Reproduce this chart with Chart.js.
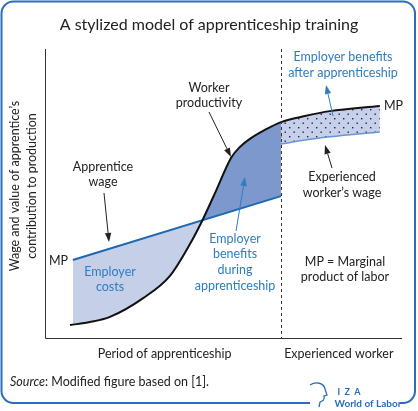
<!DOCTYPE html>
<html>
<head>
<meta charset="utf-8">
<script src="https://cdn.jsdelivr.net/npm/chart.js@4.4.1/dist/chart.umd.min.js"></script>
<style>
  html, body { margin: 0; padding: 0; background: #ffffff; }
  #wrap { width: 418px; height: 411px; position: relative; }
</style>
</head>
<body>
<div id="wrap"><canvas id="c"></canvas></div>
<script>
// ---- Data (stylized values) ----
const mpX   = [7.0, 12.6, 18.2, 27.5, 35.0, 40.6, 44.0, 47.9, 52.1, 54.6, 57.4, 61.6, 66.1, 72.8, 79.8, 93.8];
const mpY   = [4.5, 5.5, 7.3, 13.8, 21.5, 32.5, 40.5, 50.9, 62.3, 66.1, 68.9, 72.0, 74.7, 76.8, 78.5, 80.3];
const apprWageX = [7.8, 66.1];
const apprWageY = [27.0, 49.1];
const expWageX  = [66.1, 72.8, 79.8, 93.8];
const expWageY  = [67.1, 68.5, 69.6, 71.3];
const endOfApprenticeship = 66.1;
const periodLabels = ["Period of apprenticeship", "Experienced worker"];
const periodCenters = [33.5, 82.3];
const title = "A stylized model of apprenticeship training";
const yAxisTitle = ["Wage and value of apprentice\u2019s", "contribution to production"];

const toPts = (xs, ys) => xs.map((x, i) => ({ x: x, y: ys[i] }));

// dotted pattern for employer benefits after apprenticeship
function makePattern() {
  const p = document.createElement('canvas');
  p.width = 9; p.height = 9;
  const g = p.getContext('2d');
  g.fillStyle = '#c6d0ea';
  g.fillRect(0, 0, 9, 9);
  g.fillStyle = '#22263a';
  g.fillRect(1, 1, 1.4, 1.4);
  g.fillRect(5.5, 5.5, 1.4, 1.4);
  return document.getElementById('c').getContext('2d').createPattern(p, 'repeat');
}

const BLUE_TXT = '#2f7cc1';
const BLUE_LINE = '#1c68b3';
const FONT = 'Lato, "Noto Sans", sans-serif';

function arrow(ctx, x1, y1, x2, y2, color) {
  const ang = Math.atan2(y2 - y1, x2 - x1);
  const L = 9, W = 3.2;
  const bx = x2 - L * Math.cos(ang), by = y2 - L * Math.sin(ang);
  ctx.save();
  ctx.strokeStyle = color; ctx.fillStyle = color; ctx.lineWidth = 1;
  ctx.beginPath(); ctx.moveTo(x1, y1); ctx.lineTo(bx, by); ctx.stroke();
  ctx.beginPath();
  ctx.moveTo(x2, y2);
  ctx.lineTo(bx + W * Math.sin(ang), by - W * Math.cos(ang));
  ctx.lineTo(bx - W * Math.sin(ang), by + W * Math.cos(ang));
  ctx.closePath(); ctx.fill();
  ctx.restore();
}

function text(ctx, s, x, y, opts) {
  opts = opts || {};
  ctx.save();
  ctx.font = (opts.weight || '') + ' ' + (opts.size || 13) + 'px ' + FONT;
  ctx.fillStyle = opts.color || '#222';
  ctx.textAlign = opts.align || 'center';
  ctx.textBaseline = 'middle';
  ctx.fillText(s, x, y);
  ctx.restore();
}

const decor = {
  id: 'decor',
  afterDraw(chart) {
    const ctx = chart.ctx;
    const xs = chart.scales.x, ys = chart.scales.y;
    const a = chart.chartArea;

    // axes
    ctx.save();
    ctx.strokeStyle = '#333'; ctx.lineWidth = 1;
    ctx.beginPath();
    ctx.moveTo(a.left + 0.5, a.top); ctx.lineTo(a.left + 0.5, a.bottom + 0.5);
    ctx.lineTo(a.right, a.bottom + 0.5);
    ctx.stroke();
    // dashed divider
    const dx = Math.round(xs.getPixelForValue(endOfApprenticeship)) + 0.5;
    ctx.setLineDash([3, 3]);
    ctx.beginPath(); ctx.moveTo(dx, a.top); ctx.lineTo(dx, a.bottom); ctx.stroke();
    ctx.restore();

    // title
    text(ctx, title, 209, 25, { size: 16, color: '#222' });

    // y-axis title
    ctx.save();
    ctx.translate(15, 186); ctx.rotate(-Math.PI / 2);
    text(ctx, yAxisTitle[0], 0, 0, { size: 12.5 });
    text(ctx, yAxisTitle[1], 0, 17, { size: 12.5 });
    ctx.restore();

    // period labels
    periodLabels.forEach((s, i) => text(ctx, s, xs.getPixelForValue(periodCenters[i]), 354, { size: 12.5 }));

    // annotations
    text(ctx, 'Worker', 209, 88, { size: 12.5 });
    text(ctx, 'productivity', 209, 103, { size: 12.5 });
    arrow(ctx, 209, 112, 231, 157, '#222');

    text(ctx, 'Apprentice', 103, 167, { size: 12.5 });
    text(ctx, 'wage', 103, 182, { size: 12.5 });
    arrow(ctx, 104, 193, 109, 242, '#222');

    text(ctx, 'MP', 68, 261, { size: 12.5, align: 'right' });
    text(ctx, 'Employer', 110, 272, { size: 12.5, color: BLUE_TXT });
    text(ctx, 'costs', 110, 287, { size: 12.5, color: BLUE_TXT });

    text(ctx, 'Employer', 235, 239, { size: 12.5, color: BLUE_TXT });
    text(ctx, 'benefits', 235, 254, { size: 12.5, color: BLUE_TXT });
    text(ctx, 'during', 235, 270, { size: 12.5, color: BLUE_TXT });
    text(ctx, 'apprenticeship', 235, 286, { size: 12.5, color: BLUE_TXT });
    arrow(ctx, 236, 231, 245, 177, BLUE_TXT);

    text(ctx, 'Employer benefits', 343, 57, { size: 12.5, color: BLUE_TXT });
    text(ctx, 'after apprenticeship', 343, 73, { size: 12.5, color: BLUE_TXT });
    arrow(ctx, 333, 116, 326, 85, BLUE_TXT);

    text(ctx, 'MP', 384, 106, { size: 12.5, align: 'left' });

    text(ctx, 'Experienced', 342, 177, { size: 12.5 });
    text(ctx, 'worker\u2019s wage', 342, 193, { size: 12.5 });
    arrow(ctx, 332, 168, 325, 145, '#222');

    text(ctx, 'MP = Marginal', 345, 262, { size: 12.5 });
    text(ctx, 'product of labor', 345, 277, { size: 12.5 });

    // source
    ctx.save();
    ctx.font = 'italic 12.5px ' + FONT;
    ctx.fillStyle = '#222'; ctx.textBaseline = 'middle'; ctx.textAlign = 'left';
    ctx.fillText('Source', 10, 382);
    const w = ctx.measureText('Source').width;
    ctx.font = '12.5px ' + FONT;
    ctx.fillText(': Modified figure based on [1].', 10 + w, 382);
    ctx.restore();

    // frame
    ctx.save();
    ctx.strokeStyle = '#2a6ebb'; ctx.lineWidth = 2;
    const L = 1.5, T = 1.5, R = 415, B = 403, r = 12;
    ctx.beginPath();
    ctx.moveTo(310, B);
    ctx.lineTo(L + r, B); ctx.arcTo(L, B, L, B - r, r);
    ctx.lineTo(L, T + r); ctx.arcTo(L, T, L + r, T, r);
    ctx.lineTo(R - r, T); ctx.arcTo(R, T, R, T + r, r);
    ctx.lineTo(R, B - r); ctx.arcTo(R, B, R - r, B, r);
    ctx.lineTo(400, B);
    ctx.stroke();
    // logo profile
    ctx.lineWidth = 1.3;
    ctx.beginPath();
    ctx.moveTo(310, 385);
    ctx.bezierCurveTo(316, 381, 324, 383, 325, 389);
    ctx.lineTo(327, 395);
    ctx.lineTo(324, 396);
    ctx.bezierCurveTo(325, 400, 323, 401, 320, 402);
    ctx.lineTo(319, 407);
    ctx.stroke();
    ctx.restore();
    text(ctx, 'I  Z  A', 349, 392, { size: 9, weight: 'bold', color: '#2a6ebb' });
    text(ctx, 'World of Labor', 368, 404, { size: 10, weight: 'bold', color: '#2a6ebb' });
  }
};

const ctx = document.getElementById('c');
const pattern = makePattern();

new Chart(ctx, {
  type: 'scatter',
  data: {
    datasets: [
      {
        label: 'MP',
        data: toPts(mpX, mpY),
        showLine: true,
        borderColor: '#111',
        borderWidth: 2,
        pointRadius: 0,
        cubicInterpolationMode: 'monotone',
        fill: { target: 1, above: '#7d98cc', below: '#c5cfe8' }
      },
      {
        label: 'Apprentice wage',
        data: toPts(apprWageX, apprWageY),
        showLine: true,
        borderColor: BLUE_LINE,
        borderWidth: 2,
        pointRadius: 0,
        fill: false
      },
      {
        label: "Experienced worker's wage",
        data: toPts(expWageX, expWageY),
        showLine: true,
        borderColor: '#6a95d2',
        borderWidth: 1.5,
        pointRadius: 0,
        cubicInterpolationMode: 'monotone',
        fill: { target: 0, above: pattern, below: pattern }
      }
    ]
  },
  options: {
    responsive: true,
    maintainAspectRatio: false,
    animation: false,
    layout: { padding: { left: 45, right: 16, top: 49, bottom: 73 } },
    scales: {
      x: { type: 'linear', min: 0, max: 100, display: false },
      y: { type: 'linear', min: 0, max: 100, display: false }
    },
    plugins: {
      legend: { display: false },
      tooltip: { enabled: false },
      filler: { drawTime: 'beforeDatasetsDraw' }
    }
  },
  plugins: [decor]
});
</script>
</body>
</html>
